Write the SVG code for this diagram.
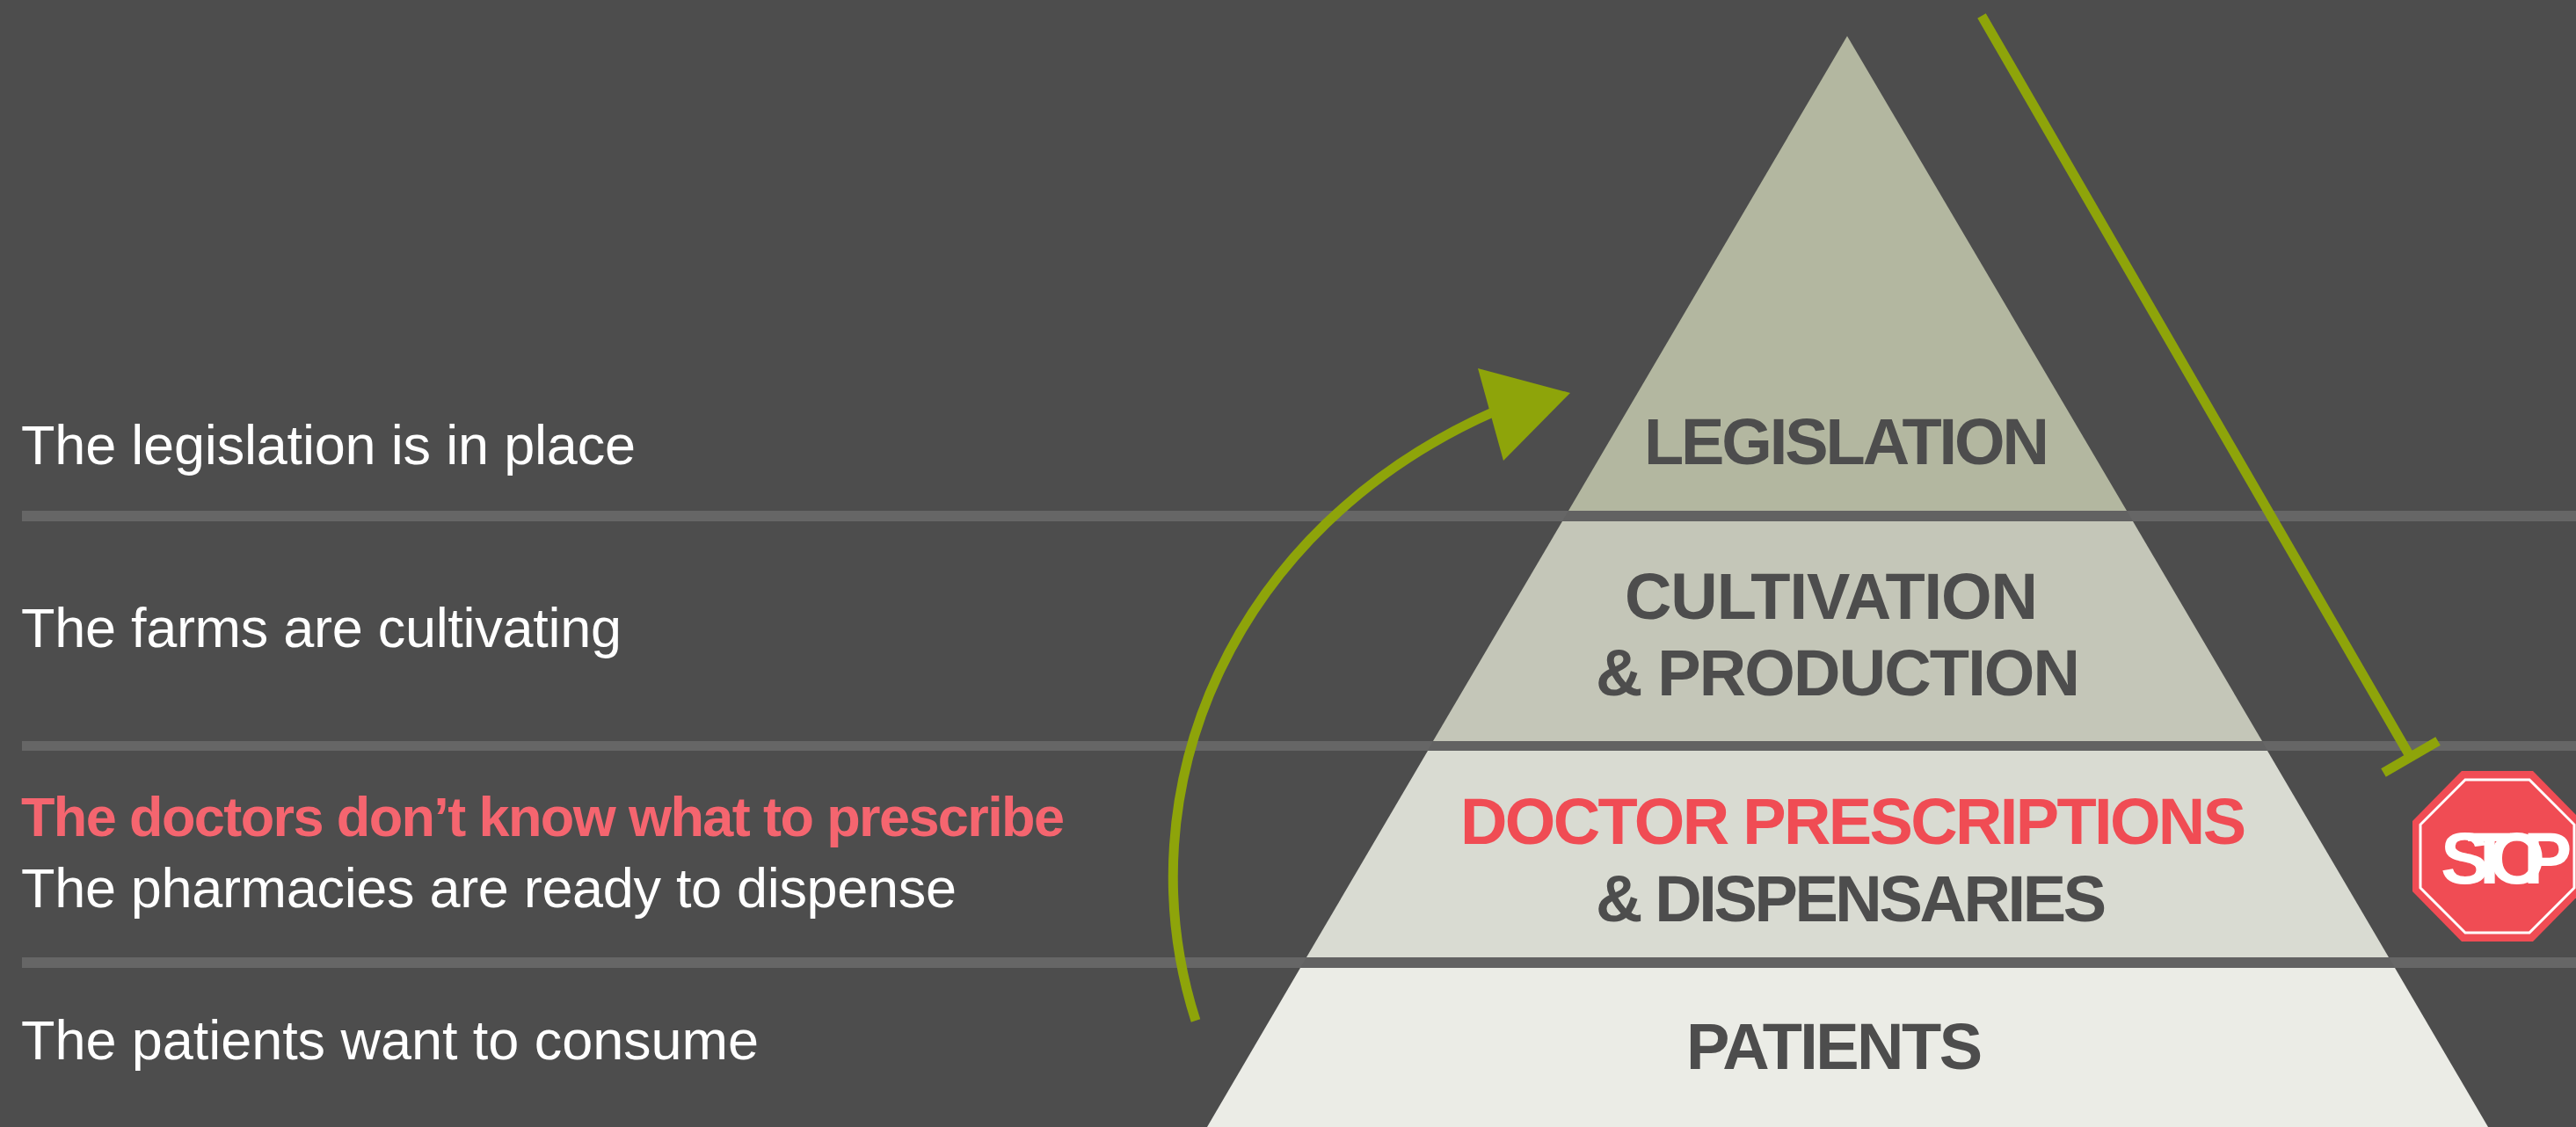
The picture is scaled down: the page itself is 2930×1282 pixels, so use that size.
<svg xmlns="http://www.w3.org/2000/svg" width="2930" height="1282" viewBox="0 0 2930 1282">
<style>
.l{font:63px "Liberation Sans",Arial,sans-serif;fill:#fff}
.p{font:bold 74px "Liberation Sans",Arial,sans-serif;fill:#4d4d4d}
.g{fill:none;stroke:#8ea40a}
.b{fill:#666}
.d{fill:#626262}
</style>
<rect width="2930" height="1282" fill="#4d4d4d"/>
<g id="rules">
<rect class="b" x="25" y="581" width="2905" height="12"/>
<rect class="b" x="25" y="843" width="2905" height="11"/>
<rect class="b" x="25" y="1089" width="2905" height="12"/>
</g>
<g id="tier-legislation"><polygon points="2101,41 2419,581 1784,581" fill="#b3b7a0"/></g>
<g id="tier-cultivation"><polygon points="1777,593 2426,593 2573,843 1630,843" fill="#c4c6b8"/></g>
<g id="tier-doctors"><polygon points="1624,854 2579,854 2717,1089 1486,1089" fill="#d9dbd2"/></g>
<g id="tier-patients"><polygon points="1479,1101 2724,1101 2830,1282 1373,1282" fill="#ebece6"/></g>
<g id="rule-overlaps">
<polygon class="d" points="1784,581 2419,581 2426,593 1777,593"/>
<polygon class="d" points="1630,843 2573,843 2579,854 1624,854"/>
<polygon class="d" points="1486,1089 2717,1089 2724,1101 1479,1101"/>
</g>
<g id="labels-left">
<text class="l" x="24" y="528" textLength="699" lengthAdjust="spacing">The legislation is in place</text>
<text class="l" x="24" y="736" textLength="683" lengthAdjust="spacing">The farms are cultivating</text>
<text class="l" x="24" y="951" textLength="1187" lengthAdjust="spacing" style="font-weight:bold;fill:#f5656f">The doctors don’t know what to prescribe</text>
<text class="l" x="24" y="1032" textLength="1064" lengthAdjust="spacing">The pharmacies are ready to dispense</text>
<text class="l" x="24" y="1205" textLength="839" lengthAdjust="spacing">The patients want to consume</text>
</g>
<g id="labels-pyramid">
<text class="p" x="1870" y="528" textLength="461" lengthAdjust="spacing">LEGISLATION</text>
<text class="p" x="1848" y="704" textLength="470" lengthAdjust="spacing">CULTIVATION</text>
<text class="p" x="1815" y="791" textLength="551" lengthAdjust="spacing">&amp; PRODUCTION</text>
<text class="p" x="1661" y="960" textLength="894" lengthAdjust="spacing" style="fill:#f04c54">DOCTOR PRESCRIPTIONS</text>
<text class="p" x="1815" y="1048" textLength="581" lengthAdjust="spacing">&amp; DISPENSARIES</text>
<text class="p" x="1918" y="1216" textLength="337" lengthAdjust="spacing">PATIENTS</text>
</g>
<g id="connectors">
<path class="g" stroke-width="11" d="M1360,1161C1276,900 1400,600 1700,468"/>
<polygon points="1681,419 1786,447 1710,524" fill="#8ea40a"/>
<path class="g" stroke-width="11" d="M2254,18L2741,860"/>
<path class="g" stroke-width="11" d="M2711,879L2773,843"/>
</g>
<g id="stop-sign">
<polygon points="2800,877 2881,877 2937,934 2937,1014 2881,1071 2800,1071 2744,1014 2744,934" fill="#f04c54"/>
<polygon points="2804,887 2877,887 2928,938 2928,1010 2877,1061 2804,1061 2753,1010 2753,938" fill="none" stroke="#fff" stroke-width="3"/>
<text x="2776" y="1005" style="font:bold 83px 'Liberation Sans',Arial,sans-serif;fill:#fff;letter-spacing:-25px">STOP</text>
</g>
</svg>
